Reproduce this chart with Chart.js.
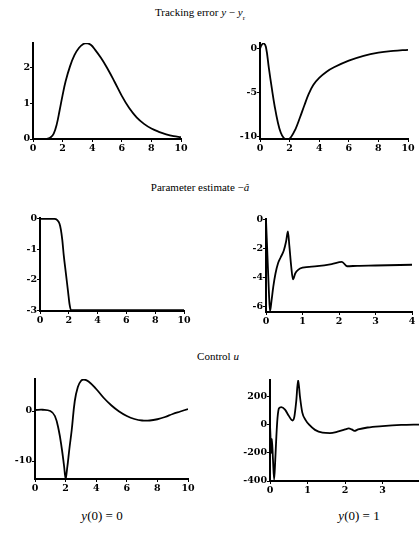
<!DOCTYPE html>
<html>
<head>
<meta charset="utf-8">
<script src="https://cdn.jsdelivr.net/npm/chart.js@4/dist/chart.umd.min.js"></script>
<style>
html,body{margin:0;padding:0;background:#fff;width:419px;height:534px;overflow:hidden;position:relative;}
canvas{position:absolute;}
.t{position:absolute;font-family:"Liberation Serif",serif;font-size:11px;color:#000;white-space:nowrap;transform:translate(-50%,-50%);}
.b{font-size:13px;}
</style>
</head>
<body>
<div class="t" style="left:200px;top:14px;">Tracking error <i>y</i> − <i>y</i><sub style="font-size:7px">r</sub></div>
<div class="t" style="left:200px;top:187px;">Parameter estimate −<i>â</i></div>
<div class="t" style="left:218px;top:356px;">Control <i>u</i></div>
<div class="t b" style="left:102px;top:516px;"><i>y</i>(0) = 0</div>
<div class="t b" style="left:359px;top:516px;"><i>y</i>(0) = 1</div>
<canvas id="c1"></canvas><canvas id="c2"></canvas>
<canvas id="c3"></canvas><canvas id="c4"></canvas>
<canvas id="c5"></canvas><canvas id="c6"></canvas>
<script>
// ---- data ----
const errX0 = [0,0.8,1.0,1.2,1.4,1.6,1.8,2.0,2.2,2.5,2.8,3.1,3.4,3.6,3.9,4.2,4.6,5.0,5.5,6.0,6.5,7.0,7.5,8.0,8.5,9.0,9.5,10];
const errY0 = [0,0,0.01,0.05,0.15,0.4,0.8,1.22,1.6,2.02,2.33,2.53,2.64,2.67,2.62,2.48,2.25,1.98,1.6,1.2,0.86,0.6,0.42,0.29,0.2,0.13,0.08,0.05];
const errX1 = [0,0.1,0.25,0.4,0.6,0.8,1.0,1.2,1.4,1.6,1.85,2.1,2.4,2.7,3.0,3.3,3.6,4.0,4.5,5.0,6.0,7.0,8.0,9.0,10];
const errY1 = [0,0.4,0.6,0.2,-2.2,-4.5,-6.6,-8.3,-9.5,-10.1,-10.3,-10.0,-9.1,-7.8,-6.4,-5.1,-4.1,-3.3,-2.6,-2.1,-1.35,-0.8,-0.45,-0.25,-0.12];
const parX0 = [0,1.0,1.2,1.35,1.45,1.55,1.65,1.8,1.95,2.05,2.15,10];
const parY0 = [0,0,-0.04,-0.15,-0.35,-0.7,-1.2,-1.8,-2.4,-2.8,-3,-3];
const parX1 = [0,0.04,0.08,0.11,0.15,0.2,0.26,0.33,0.4,0.49,0.55,0.6,0.64,0.69,0.74,0.8,0.88,1.0,1.4,1.8,2.08,2.22,2.5,3.0,4.0];
const parY1 = [0,-2.5,-5,-6.3,-5.6,-4.6,-3.7,-3.0,-2.6,-2.1,-1.5,-0.8,-1.8,-3.2,-4.1,-3.7,-3.45,-3.3,-3.2,-3.05,-2.9,-3.2,-3.17,-3.15,-3.1];
const ctlX0 = [0,0.5,1.0,1.3,1.55,1.75,1.9,2.0,2.1,2.25,2.4,2.6,2.8,3.0,3.2,3.5,4.0,4.5,5.0,5.5,6.0,6.5,7.0,7.5,8.0,8.5,9.0,9.5,10];
const ctlY0 = [0.2,0.25,0,-1,-3.8,-7.5,-11,-13.4,-11.5,-7.5,-3.8,2.0,4.8,6.0,6.3,5.9,4.4,2.6,1.1,-0.1,-1.0,-1.6,-1.9,-1.9,-1.65,-1.2,-0.6,-0.1,0.4];
const ctlX1 = [0,0.01,0.03,0.05,0.08,0.11,0.14,0.17,0.2,0.24,0.3,0.4,0.5,0.6,0.65,0.7,0.75,0.8,0.86,0.95,1.05,1.2,1.4,1.6,1.8,2.0,2.1,2.18,2.25,2.35,2.6,3.0,3.5,4.0];
const ctlY1 = [0,-60,-200,-100,-250,-390,-250,-80,50,120,128,110,65,32,60,170,320,200,90,35,0,-35,-55,-58,-48,-32,-25,-32,-42,-32,-18,-8,0,3];
// tick labels
const ticksX10 = [0,2,4,6,8,10];
const ticksX4 = [0,1,2,3,4];
const ticksX3 = [0,1,2,3];
const ticksErrY0 = [0,1,2];
const ticksErrY1 = [0,-5,-10];
const ticksParY0 = [0,-1,-2,-3];
const ticksParY1 = [0,-2,-4,-6];
const ticksCtlY0 = [0,-10];
const ticksCtlY1 = [200,0,-200,-400];

// ---- layout ----
const YW = 34, XH = 22, PT = 8, PR = 14;
function makeChart(id, box, xs, ys, xr, yr, xt, yt, smooth) {
  const c = document.getElementById(id);
  const w = box.r - box.l + YW + PR, h = box.b - box.t + PT + XH;
  c.width = w; c.height = h;
  c.style.left = (box.l - YW) + 'px'; c.style.top = (box.t - PT) + 'px';
  c.style.width = w + 'px'; c.style.height = h + 'px';
  const font = {family: '"DejaVu Serif", serif', size: 9.5, weight: 'bold'};
  const ds = {data: xs.map((x, i) => ({x: x, y: ys[i]})), borderColor: '#000', borderWidth: 1.8,
      pointRadius: 0, fill: false};
  if (smooth) { ds.tension = 0.4; } else { ds.cubicInterpolationMode = 'monotone'; }
  new Chart(c, {
    type: 'line',
    data: {datasets: [ds]},
    options: {
      responsive: false, animation: false, devicePixelRatio: 1,
      layout: {padding: {left: 0, top: PT, right: PR, bottom: 0}},
      plugins: {legend: {display: false}, tooltip: {enabled: false}},
      scales: {
        x: {type: 'linear', min: xr[0], max: xr[1],
          afterFit: s => { s.height = XH; },
          afterBuildTicks: s => { s.ticks = xt.map(v => ({value: v})); },
          border: {display: true, color: '#000', width: 2},
          grid: {display: true, drawOnChartArea: false, drawTicks: true, tickLength: 3, color: '#000', lineWidth: 1},
          ticks: {autoSkip: false, maxRotation: 0, padding: 1, color: '#000', font: font, callback: v => String(v)}},
        y: {type: 'linear', min: yr[0], max: yr[1],
          afterFit: s => { s.width = YW; },
          afterBuildTicks: s => { s.ticks = yt.map(v => ({value: v})); },
          border: {display: true, color: '#000', width: 2},
          grid: {display: true, drawOnChartArea: false, drawTicks: true, tickLength: 3, color: '#000', lineWidth: 1},
          ticks: {autoSkip: false, padding: 0, color: '#000', font: font, callback: v => String(v)}}
      }
    }
  });
}
makeChart('c1', {l:33, r:181, t:43, b:139}, errX0, errY0, [0,10], [0,2.67], ticksX10, ticksErrY0, true);
makeChart('c2', {l:260, r:408, t:43, b:139}, errX1, errY1, [0,10], [-10.23,0.65], ticksX10, ticksErrY1, true);
makeChart('c3', {l:40, r:184, t:218, b:311}, parX0, parY0, [0,10], [-3.03,0.03], ticksX10, ticksParY0, false);
makeChart('c4', {l:266, r:412, t:219, b:312}, parX1, parY1, [0,4], [-6.35,0.05], ticksX4, ticksParY1, false);
makeChart('c5', {l:35, r:188, t:379, b:479}, ctlX0, ctlY0, [0,10], [-13.6,6.4], ticksX10, ticksCtlY0, true);
makeChart('c6', {l:270, r:420, t:380, b:481}, ctlX1, ctlY1, [0,4], [-400,321], ticksX3, ticksCtlY1, false);
</script>
</body>
</html>
